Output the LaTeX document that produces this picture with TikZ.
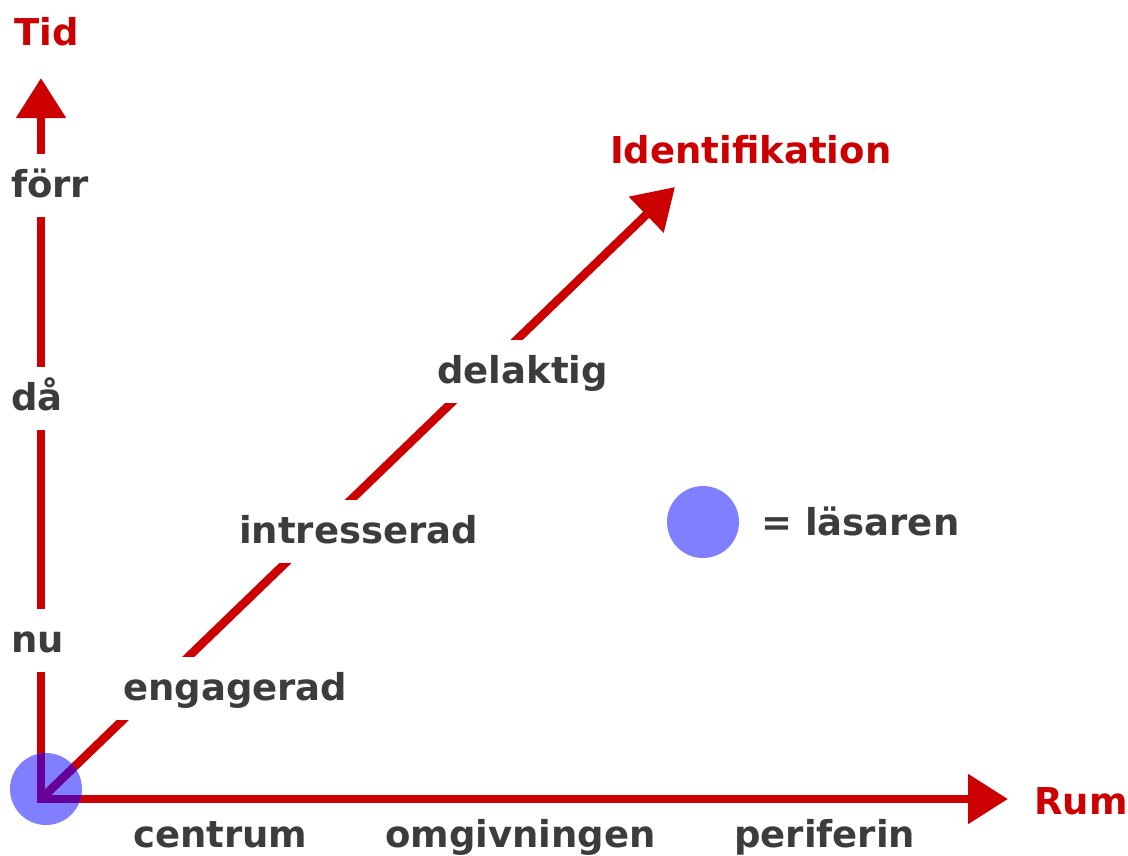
\documentclass[tikz,border=0pt]{standalone}
\usepackage{fontspec}
\setsansfont{DejaVu Sans}
\usetikzlibrary{arrows.meta}
\definecolor{axisred}{RGB}{204,0,0}
\definecolor{labelgray}{RGB}{60,60,60}
\definecolor{readerblue}{RGB}{127,127,255}
\definecolor{readerpurple}{RGB}{102,0,153}

\begin{document}
\begin{tikzpicture}[x=1pt, y=-1pt, font=\sffamily\bfseries\fontsize{37}{44}\selectfont,
  axis/.style={draw=axisred, line width=8.5pt, line cap=rect, -{Triangle[length=40pt,width=48pt]}},
  axisin/.style={draw=readerpurple, line width=8.5pt},
  onaxis/.style={fill=white, text=labelgray, inner xsep=6pt, inner ysep=12pt,
                 text height=31pt, text depth=8pt, anchor=base west},
  plain/.style={text=labelgray, inner sep=0pt, anchor=base west},
  axistitle/.style={text=axisred, inner sep=0pt, anchor=base west},
  reader/.style={circle, fill=readerblue, minimum size=72pt, inner sep=0pt}]

  \fill[white] (0,0) rectangle (1128,855);

  % ---------- axes ----------
  \coordinate (O) at (41,799);
  \coordinate (tidtip) at (41,78);
  \coordinate (rumtip) at (1008,799);
  \coordinate (idtip) at (675,187);
  \draw[axis] (O) -- (tidtip);
  \draw[axis] (O) -- (rumtip);
  \draw[axis, line cap=butt] (O) -- (idtip);

  % ---------- axis titles ----------
  \node[axistitle] (tid) at (14,45) {Tid};
  \node[axistitle] (rum) at (1034,814) {Rum};
  \node[axistitle] (ident) at (610,163) {Identifikation};

  % ---------- labels on the time axis ----------
  \node[onaxis] (forr) at (5,197) {förr};
  \node[onaxis] (da) at (5,410) {då};
  \node[onaxis] (nu) at (5,652) {nu};

  % ---------- labels on the identification axis ----------
  \node[onaxis] (engagerad) at (117,700) {engagerad};
  \node[onaxis] (intresserad) at (233,543) {intresserad};
  \node[onaxis] (delaktig) at (431,383) {delaktig};

  % ---------- labels under the space axis ----------
  \node[plain] (centrum) at (133,847) {centrum};
  \node[plain] (omgivningen) at (385,847) {omgivningen};
  \node[plain] (periferin) at (734,847) {periferin};

  % ---------- reader at the origin ----------
  \node[reader] (reader) at (46,789) {};
  \begin{scope}
    \clip (reader.center) circle (36pt);
    \draw[axisin, line cap=rect] (tidtip) -- (O) -- (rumtip);
    \draw[axisin] (O) -- (idtip);
  \end{scope}

  % ---------- legend ----------
  \node[reader] (legend) at (703,522) {};
  \node[plain] (legendtext) at (761,535) {= läsaren};

\end{tikzpicture}
\end{document}
